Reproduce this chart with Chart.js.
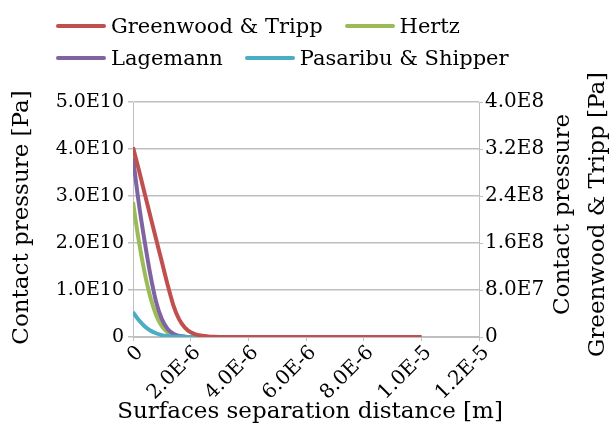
<!DOCTYPE html>
<html>
<head>
<meta charset="utf-8">
<script src="https://cdn.jsdelivr.net/npm/chart.js@4.4.0/dist/chart.umd.min.js"></script>
<style>
  body { margin: 0; background: #fff; }
  #wrap { position: relative; width: 612px; height: 430px; }
  #chart { position: absolute; left: 0; top: 0; }
  #legend { position: absolute; left: 56px; top: 10px; font: 21px "DejaVu Serif"; color: #000; }
  .row { display: flex; height: 32px; align-items: center; }
  .item { display: flex; align-items: center; margin-right: 22px; }
  .swatch { width: 50px; height: 4px; border-radius: 2px; margin-right: 5px; }
</style>
</head>
<body>
<div id="wrap">
  <canvas id="chart" width="612" height="430"></canvas>
  <div id="legend"></div>
</div>
<script>
// surfaces separation distance [m]
const xValues = [0, 2e-7, 4e-7, 6e-7, 8e-7, 1e-6, 1.2e-6, 1.4e-6, 1.6e-6, 1.8e-6, 2e-6,
  2.2e-6, 2.4e-6, 2.6e-6, 2.8e-6, 3e-6, 4e-6, 5e-6, 6e-6, 7e-6, 8e-6, 9e-6, 1e-5];

// contact pressure [Pa]
const greenwoodTripp = [3.23e8, 2.85e8, 2.45e8, 2.06e8, 1.67e8, 1.28e8, 8.9e7, 5.4e7, 3.0e7, 1.6e7, 8e6,
  4e6, 2e6, 1e6, 4e5, 1e5, 0, 0, 0, 0, 0, 0, 0];
const hertz = [2.87e10, 2.05e10, 1.38e10, 8.5e9, 4.7e9, 2.3e9, 1.0e9, 4e8, 1.5e8, 4e7, 0,
  0, 0, 0, 0, 0, 0, 0, 0, 0, 0, 0, 0];
const lagemann = [3.82e10, 2.85e10, 2.05e10, 1.33e10, 7.5e9, 3.8e9, 1.7e9, 7e8, 2.5e8, 8e7, 2e7,
  0, 0, 0, 0, 0, 0, 0, 0, 0, 0, 0, 0];
const pasaribuShipper = [5.3e9, 3.6e9, 2.3e9, 1.4e9, 8e8, 4e8, 2e8, 8e7, 3e7, 1e7, 0,
  0, 0, 0, 0, 0, 0, 0, 0, 0, 0, 0, 0];

const seriesNames = ["Greenwood & Tripp", "Hertz", "Lagemann", "Pasaribu & Shipper"];
const seriesColors = ["#C0504D", "#9BBB59", "#8064A2", "#4BACC6"];

const xTickValues = [0, 2e-6, 4e-6, 6e-6, 8e-6, 1e-5, 1.2e-5];
const xTickLabels = ["0", "2.0E-6", "4.0E-6", "6.0E-6", "8.0E-6", "1.0E-5", "1.2E-5"];
const yTickValues = [0, 1e10, 2e10, 3e10, 4e10, 5e10];
const yTickLabels = ["0", "1.0E10", "2.0E10", "3.0E10", "4.0E10", "5.0E10"];
const y2TickValues = [0, 8e7, 1.6e8, 2.4e8, 3.2e8, 4e8];
const y2TickLabels = ["0", "8.0E7", "1.6E8", "2.4E8", "3.2E8", "4.0E8"];

const xTitle = "Surfaces separation distance [m]";
const yTitle = "Contact pressure [Pa]";
const rightTitleLines = ["Contact pressure", "Greenwood & Tripp [Pa]"];

const toPoints = (ys) => xValues.map((x, i) => ({ x: x, y: ys[i] }));

// html legend, two items per row like the original
const legend = document.getElementById("legend");
[[0, 1], [2, 3]].forEach((row) => {
  const div = document.createElement("div");
  div.className = "row";
  row.forEach((i) => {
    const item = document.createElement("div");
    item.className = "item";
    const sw = document.createElement("span");
    sw.className = "swatch";
    sw.style.background = seriesColors[i];
    item.appendChild(sw);
    item.appendChild(document.createTextNode(seriesNames[i]));
    div.appendChild(item);
  });
  legend.appendChild(div);
});

// axis titles drawn by hand: chart.js squeezes them to the axis length
// and turns the right one the other way
const axisTitles = {
  id: "axisTitles",
  afterDraw(chart) {
    const { ctx, chartArea } = chart;
    const xMid = (chartArea.left + chartArea.right) / 2;
    const yMid = (chartArea.top + chartArea.bottom) / 2;
    const vertical = (text, x, y) => {
      ctx.save();
      ctx.translate(x, y);
      ctx.rotate(-Math.PI / 2);
      ctx.fillText(text, 0, 0);
      ctx.restore();
    };
    ctx.save();
    ctx.font = '23px "DejaVu Serif"';
    ctx.fillStyle = "#000";
    ctx.textAlign = "center";
    ctx.textBaseline = "middle";
    ctx.fillText(xTitle, xMid + 4, chart.height - 18);
    vertical(yTitle, 22, yMid - 2);
    rightTitleLines.forEach((line, i) => {
      vertical(line, chart.width - 49 + i * 35, yMid - 5);
    });
    ctx.restore();
  },
};

Chart.defaults.font.family = '"DejaVu Serif"';
Chart.defaults.color = "#000";

const lineStyle = {
  borderWidth: 4,
  pointRadius: 0,
  fill: false,
  cubicInterpolationMode: "monotone",
};

new Chart(document.getElementById("chart"), {
  type: "line",
  data: {
    datasets: [
      { ...lineStyle, label: seriesNames[0], data: toPoints(greenwoodTripp), borderColor: seriesColors[0], yAxisID: "y2", order: 0 },
      { ...lineStyle, label: seriesNames[1], data: toPoints(hertz), borderColor: seriesColors[1], yAxisID: "y", order: 3 },
      { ...lineStyle, label: seriesNames[2], data: toPoints(lagemann), borderColor: seriesColors[2], yAxisID: "y", order: 2 },
      { ...lineStyle, label: seriesNames[3], data: toPoints(pasaribuShipper), borderColor: seriesColors[3], yAxisID: "y", order: 1 },
    ],
  },
  options: {
    responsive: false,
    animation: false,
    layout: { padding: { top: 102, left: 0, right: 0, bottom: 0 } },
    plugins: { legend: { display: false }, tooltip: { enabled: false } },
    scales: {
      x: {
        type: "linear",
        min: 0,
        max: 1.2e-5,
        afterBuildTicks: (scale) => { scale.ticks = xTickValues.map((v) => ({ value: v })); },
        afterFit: (scale) => { scale.height = 93; },
        ticks: {
          autoSkip: false,
          minRotation: 45,
          maxRotation: 45,
          padding: 0,
          labelOffset: 7,
          font: { size: 20 },
          callback: (v, i) => xTickLabels[i],
        },
        grid: { drawOnChartArea: false, tickLength: 4, color: "#bfbfbf" },
        border: { color: "#bfbfbf" },
      },
      y: {
        position: "left",
        min: 0,
        max: 5e10,
        afterBuildTicks: (scale) => { scale.ticks = yTickValues.map((v) => ({ value: v })); },
        afterFit: (scale) => { scale.width = 133; },
        ticks: { padding: 4, font: { size: 19 }, callback: (v, i) => yTickLabels[i] },
        grid: { color: "#bfbfbf", lineWidth: 1.5, tickLength: 5 },
        border: { color: "#bfbfbf" },
      },
      y2: {
        position: "right",
        min: 0,
        max: 4e8,
        afterBuildTicks: (scale) => { scale.ticks = y2TickValues.map((v) => ({ value: v })); },
        afterFit: (scale) => { scale.width = 133; },
        ticks: { padding: 2, font: { size: 20 }, callback: (v, i) => y2TickLabels[i] },
        grid: { drawOnChartArea: false, tickLength: 4, color: "#bfbfbf" },
        border: { color: "#bfbfbf" },
      },
    },
  },
  plugins: [axisTitles],
});
</script>
</body>
</html>
